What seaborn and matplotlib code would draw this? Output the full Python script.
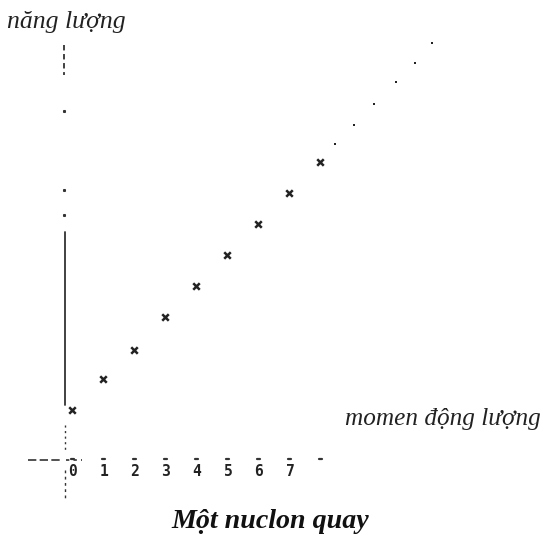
import matplotlib
matplotlib.use("Agg")
import matplotlib.pyplot as plt
import seaborn as sns
import pandas as pd

# data: angular momentum steps and energy levels (axis units)
momentum = [0, 1, 2, 3, 4, 5, 6, 7, 8]
energy = [1.6, 2.6, 3.55, 4.6, 5.6, 6.6, 7.6, 8.6, 9.6]
trail_momentum = [8.5, 9.1, 9.75, 10.45, 11.05, 11.6]
trail_energy = [10.2, 10.8, 11.5, 12.2, 12.8, 13.45]
tick_labels = ["0", "1", "2", "3", "4", "5", "6", "7"]

sns.set_theme(style="white")
plt.rcParams['font.family'] = ['DejaVu Sans']

fig = plt.figure(figsize=(5.45, 5.42), dpi=100)
ax = fig.add_axes([0, 0, 1, 1])

df = pd.DataFrame({"momentum": momentum, "energy": energy})
sns.scatterplot(data=df, x="momentum", y="energy", marker="x", s=22,
                color="#222222", linewidth=1.8, ax=ax, legend=False)
df2 = pd.DataFrame({"momentum": trail_momentum, "energy": trail_energy})
sns.scatterplot(data=df2, x="momentum", y="energy", marker="s", s=4,
                color="#222222", linewidth=0, ax=ax, legend=False)

# pixel-aligned coordinate system: px = 72 + 31*n, py = 460 - 31*E
ax.set_xlim(-72 / 31, (545 - 72) / 31)
ax.set_ylim((460 - 542) / 31, 460 / 31)
ax.axis("off")

def px(x):
    return (x - 72) / 31

def py(y):
    return (460 - y) / 31

axis_col = "#333333"
# vertical axis pieces
ax.plot([px(65), px(65)], [py(232), py(405)], color=axis_col, lw=1.3)
ax.plot([px(64), px(64)], [py(45), py(75)], color=axis_col, lw=1.3, ls=(0, (3, 2)))
for yy in [111, 190, 215]:
    ax.plot([px(64)], [py(yy)], marker="s", ms=1.2, color=axis_col)
ax.plot([px(65), px(65)], [py(425), py(452)], color=axis_col, lw=1.0, ls=(0, (1.5, 2.5)))
ax.plot([px(65), px(65)], [py(470), py(500)], color=axis_col, lw=1.0, ls=(0, (2, 2.5)))
# horizontal axis pieces
ax.plot([px(28), px(60)], [py(460), py(460)], color=axis_col, lw=1.2, ls=(0, (5, 2)))
ax.plot([px(66), px(82)], [py(460), py(460)], color=axis_col, lw=1.2, ls=(0, (2, 2.5)))

# tick marks and labels
for i, lab in enumerate(tick_labels):
    ax.plot([i - 0.04, i + 0.06], [py(459), py(459)], color=axis_col, lw=1.6)
    ax.text(i + 0.03, py(472), lab, ha="center", va="center", fontsize=10.5,
            fontweight="bold", family="DejaVu Sans Mono", color="#222222")
ax.plot([8 - 0.03, 8 + 0.05], [py(459), py(459)], color=axis_col, lw=1.6)

serif = ["Liberation Serif", "DejaVu Serif"]
ax.text(px(7), py(22), "năng lượng", ha="left", va="center", fontsize=18.5,
        style="italic", family=serif, color="#222222")
ax.text(px(541), py(419), "momen động lượng", ha="right", va="center",
        fontsize=18.2, style="italic", family=serif, color="#222222")
ax.text(px(270), py(522), "Một nuclon quay", ha="center", va="center",
        fontsize=20.2, style="italic", fontweight="bold", family=serif,
        color="#111111")

fig.savefig("out.png", dpi=100)
